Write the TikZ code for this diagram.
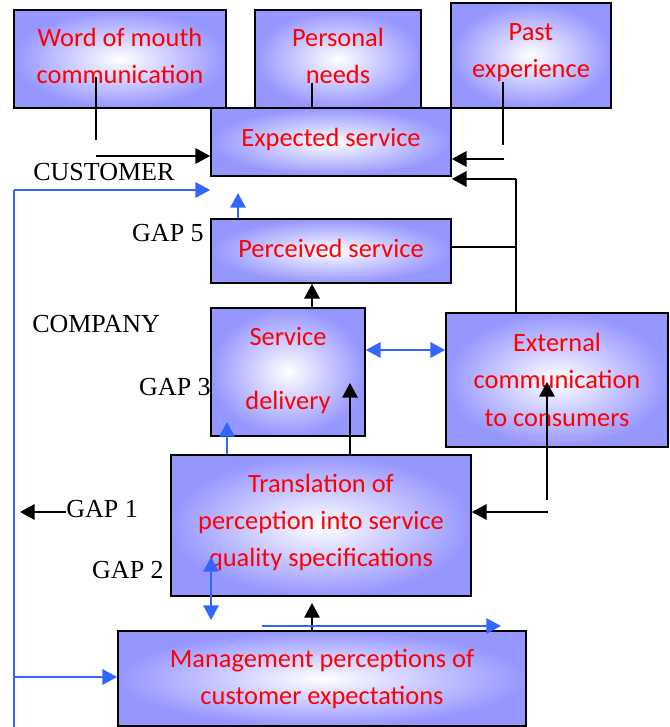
\documentclass[tikz,border=0pt]{standalone}
\usepackage{fontspec}
\setmainfont{Liberation Serif}
\newfontfamily\boxfont{Carlito}
\usetikzlibrary{%
   arrows.meta,%
   positioning%
}
\definecolor{boxblue}{RGB}{150,150,255}
\definecolor{linkblue}{RGB}{51,102,255}

\begin{document}
\begin{tikzpicture}[x=0.75pt,y=-0.75pt,
	>={Triangle[length=11pt,width=11.5pt]},
	nonterminal/.style={
	rectangle,
	inner sep=0pt,
	line width=1.3pt,
	draw=black,
	inner color=white,
	outer color=boxblue
	},boxtext/.style={
	inner sep=0pt,
	yshift=2.2pt,
	text=red,
	align=center,
	font=\boxfont\fontsize{19.8}{28}\selectfont
	},gaplabel/.style={
	inner sep=0pt,
	font=\fontsize{19.5}{22}\selectfont
	},flow/.style={
	line width=1.5pt,color=black
	},blueflow/.style={
	line width=1.5pt,color=linkblue
	}
]
\useasboundingbox (0,0) rectangle (669,727);

% expectation sources, top row
\node (atomWord) [nonterminal,minimum width=159pt,minimum height=73.5pt,
	label={[boxtext]center:Word of mouth\\communication}] at (120,59) {};
\node (atomNeeds) [nonterminal,minimum width=124.5pt,minimum height=73.5pt,
	label={[boxtext]center:Personal\\needs}] at (338,59) {};
\node (atomPast) [nonterminal,minimum width=120pt,minimum height=78.75pt,
	label={[boxtext]center:Past\\experience}] at (531,55.5) {};
\node (atomExp) [nonterminal,minimum width=180pt,minimum height=51pt,
	label={[boxtext]center:Expected service}] at (331,142) {};
% customer / company side
\node (atomPerc) [nonterminal,minimum width=180pt,minimum height=48pt,
	label={[boxtext]center:Perceived service}] at (331,251) {};
\node (atomDel) [nonterminal,minimum width=115.5pt,minimum height=96pt,
	label={[boxtext,yshift=-0.8pt]center:Service\\[20pt]delivery}] at (288,372) {};
\node (atomExt) [nonterminal,minimum width=166.5pt,minimum height=100.5pt,
	label={[boxtext,yshift=-2pt]center:External\\communication\\to consumers}] at (557,380) {};
\node (atomTrans) [nonterminal,minimum width=225pt,minimum height=105.75pt,
	label={[boxtext]center:Translation of\\perception into service\\quality specifications}] at (321,525.5) {};
\node (atomMgmt) [nonterminal,minimum width=306pt,minimum height=71.25pt,
	label={[boxtext,yshift=-2.6pt]center:Management perceptions of\\customer expectations}] at (322,678.5) {};

% gap labels
\node (lblCust) [gaplabel,anchor=west] at (33,172) {CUSTOMER};
\node (lblComp) [gaplabel,anchor=west] at (32,324) {COMPANY};
\node (gap5) [gaplabel,anchor=east] at (204,233) {GAP 5};
\node (gap3) [gaplabel,anchor=east] at (211,387) {GAP 3};
\node (gap1) [gaplabel,anchor=west] at (66,509) {GAP 1};
\node (gap2) [gaplabel,anchor=east] at (164,570) {GAP 2};

% free ends
\coordinate (POSA) at (96,77);
\coordinate (POSB) at (96,140);
\coordinate (POSC) at (96,156);
\coordinate (POSD) at (312,83);
\coordinate (POSE) at (503,82);
\coordinate (POSF) at (503,145);
\coordinate (POSG) at (504,159);
\coordinate (POSH) at (516,179);
\coordinate (POSI) at (516,247);
\coordinate (POSJ) at (14,190);
\coordinate (POSK) at (14,727);
\coordinate (POSL) at (14,677);
\coordinate (POSM) at (238,193);
\coordinate (POSN) at (312,295);
\coordinate (POSO) at (400,350);
\coordinate (POSP) at (350,383);
\coordinate (POSQ) at (227,422);
\coordinate (POSR) at (547,500);
\coordinate (POSS) at (547,382);
\coordinate (POST) at (548,512);
\coordinate (POSU) at (20,512);
\coordinate (POSV) at (211,557);
\coordinate (POSW) at (211,620);
\coordinate (POSX) at (312,603);
\coordinate (POSY) at (262,626);
\coordinate (POSZ) at (501,626);

% black links
\draw[thick]	(POSA) edge[-] (POSB);
\draw[flow]	(POSC) edge[->] (POSC -| atomExp.west);
\draw[flow]	(POSD) edge[-] (POSD |- atomExp.north);
\draw[thick]	(POSE) edge[-] (POSF);
\draw[flow]	(POSG) edge[->] (POSG -| atomExp.east);
\draw[line width=1.1pt]	(atomExt.north -| POSH) -- (POSH);
\draw[flow]	(POSH) edge[->] (POSH -| atomExp.east);
\draw[line width=1.1pt]	(POSI -| atomPerc.east) -- (POSI);
\draw[flow]	(POSN |- atomDel.north) edge[->] (POSN |- atomPerc.south);
\draw[flow]	(POSP |- atomTrans.north) edge[->] (POSP);
\draw[flow]	(POSR) edge[->] (POSS);
\draw[flow]	(POST) edge[->] (POST -| atomTrans.east);
\draw[flow]	(POSU -| gap1.west) edge[->] (POSU);
\draw[flow]	(POSX |- atomMgmt.north) edge[->] (POSX);

% blue links
\draw[blueflow]	(POSK) -- (POSJ);
\draw[blueflow]	(POSJ) edge[->] (POSJ -| atomExp.west);
\draw[blueflow]	(POSL) edge[->] (POSL -| atomMgmt.west);
\draw[blueflow]	(POSM |- atomPerc.north) edge[->] (POSM);
\draw[blueflow]	(POSO -| atomDel.east) edge[<->] (POSO -| atomExt.west);
\draw[blueflow]	(POSQ |- atomTrans.north) edge[->] (POSQ);
\draw[blueflow]	(POSV) edge[<->] (POSW);
\draw[blueflow]	(POSY) edge[->] (POSZ);

\end{tikzpicture}
\end{document}
